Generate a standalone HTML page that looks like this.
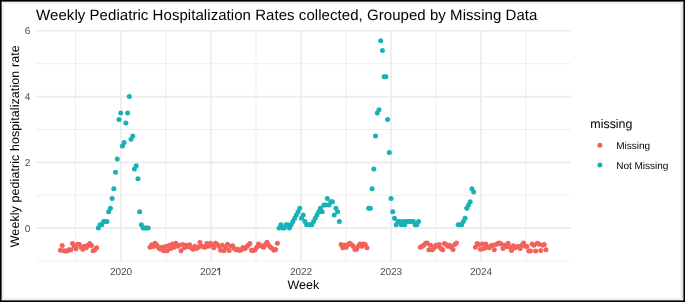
<!DOCTYPE html>
<html><head><meta charset="utf-8"><style>
html,body{margin:0;padding:0;background:#fff;}
body{width:685px;height:302px;overflow:hidden;position:relative;font-family:"Liberation Sans",sans-serif;}
svg{position:absolute;left:0;top:0;will-change:transform;}
text{text-rendering:geometricPrecision;}
.mi{stroke:#EBEBEB;stroke-width:0.8;}
.ma{stroke:#EBEBEB;stroke-width:1.6;}
.at{font-family:"Liberation Sans",sans-serif;font-size:10px;fill:#4D4D4D;}
.ti{font-family:"Liberation Sans",sans-serif;fill:#000;}
circle{r:2.5px;}
.b{position:absolute;}
</style></head><body>
<svg width="685" height="302" viewBox="0 0 685 302">
<rect x="0" y="0" width="685" height="302" fill="#fff"/>
<line x1="36.0" x2="570.7" y1="260.98" y2="260.98" class="mi"/>
<line x1="36.0" x2="570.7" y1="195.22" y2="195.22" class="mi"/>
<line x1="36.0" x2="570.7" y1="129.46" y2="129.46" class="mi"/>
<line x1="36.0" x2="570.7" y1="63.70" y2="63.70" class="mi"/>
<line x1="75.5" x2="75.5" y1="30.0" y2="262.0" class="mi"/>
<line x1="166" x2="166" y1="30.0" y2="262.0" class="mi"/>
<line x1="256" x2="256" y1="30.0" y2="262.0" class="mi"/>
<line x1="346" x2="346" y1="30.0" y2="262.0" class="mi"/>
<line x1="436" x2="436" y1="30.0" y2="262.0" class="mi"/>
<line x1="526" x2="526" y1="30.0" y2="262.0" class="mi"/>
<line x1="36.0" x2="570.7" y1="228.10" y2="228.10" class="ma"/>
<line x1="36.0" x2="570.7" y1="162.34" y2="162.34" class="ma"/>
<line x1="36.0" x2="570.7" y1="96.58" y2="96.58" class="ma"/>
<line x1="36.0" x2="570.7" y1="30.82" y2="30.82" class="ma"/>
<line x1="121" x2="121" y1="30.0" y2="262.0" class="ma"/>
<line x1="211" x2="211" y1="30.0" y2="262.0" class="ma"/>
<line x1="301" x2="301" y1="30.0" y2="262.0" class="ma"/>
<line x1="391" x2="391" y1="30.0" y2="262.0" class="ma"/>
<line x1="481" x2="481" y1="30.0" y2="262.0" class="ma"/>
<g>
<circle r="2.5" cx="60.46" cy="250.13" fill="#F2625B"/>
<circle r="2.5" cx="62.18" cy="245.53" fill="#F2625B"/>
<circle r="2.5" cx="63.90" cy="250.79" fill="#F2625B"/>
<circle r="2.5" cx="65.63" cy="251.12" fill="#F2625B"/>
<circle r="2.5" cx="67.35" cy="251.12" fill="#F2625B"/>
<circle r="2.5" cx="69.07" cy="249.80" fill="#F2625B"/>
<circle r="2.5" cx="70.79" cy="249.80" fill="#F2625B"/>
<circle r="2.5" cx="72.51" cy="243.55" fill="#F2625B"/>
<circle r="2.5" cx="74.23" cy="246.18" fill="#F2625B"/>
<circle r="2.5" cx="75.96" cy="248.81" fill="#F2625B"/>
<circle r="2.5" cx="77.68" cy="244.21" fill="#F2625B"/>
<circle r="2.5" cx="79.40" cy="244.54" fill="#F2625B"/>
<circle r="2.5" cx="81.12" cy="247.17" fill="#F2625B"/>
<circle r="2.5" cx="82.84" cy="249.14" fill="#F2625B"/>
<circle r="2.5" cx="84.56" cy="246.18" fill="#F2625B"/>
<circle r="2.5" cx="86.29" cy="247.83" fill="#F2625B"/>
<circle r="2.5" cx="88.01" cy="245.20" fill="#F2625B"/>
<circle r="2.5" cx="89.73" cy="243.55" fill="#F2625B"/>
<circle r="2.5" cx="91.45" cy="245.53" fill="#F2625B"/>
<circle r="2.5" cx="93.17" cy="250.79" fill="#F2625B"/>
<circle r="2.5" cx="94.89" cy="249.80" fill="#F2625B"/>
<circle r="2.5" cx="96.62" cy="247.83" fill="#F2625B"/>
<circle r="2.5" cx="98.34" cy="228.10" fill="#18B1B5"/>
<circle r="2.5" cx="100.06" cy="224.81" fill="#18B1B5"/>
<circle r="2.5" cx="101.78" cy="224.81" fill="#18B1B5"/>
<circle r="2.5" cx="103.50" cy="221.52" fill="#18B1B5"/>
<circle r="2.5" cx="105.22" cy="221.52" fill="#18B1B5"/>
<circle r="2.5" cx="106.95" cy="221.52" fill="#18B1B5"/>
<circle r="2.5" cx="108.67" cy="211.66" fill="#18B1B5"/>
<circle r="2.5" cx="110.39" cy="208.37" fill="#18B1B5"/>
<circle r="2.5" cx="112.11" cy="198.51" fill="#18B1B5"/>
<circle r="2.5" cx="113.83" cy="188.64" fill="#18B1B5"/>
<circle r="2.5" cx="115.55" cy="172.20" fill="#18B1B5"/>
<circle r="2.5" cx="117.28" cy="159.05" fill="#18B1B5"/>
<circle r="2.5" cx="119.00" cy="119.60" fill="#18B1B5"/>
<circle r="2.5" cx="120.72" cy="113.02" fill="#18B1B5"/>
<circle r="2.5" cx="122.44" cy="145.90" fill="#18B1B5"/>
<circle r="2.5" cx="124.16" cy="142.61" fill="#18B1B5"/>
<circle r="2.5" cx="125.88" cy="122.88" fill="#18B1B5"/>
<circle r="2.5" cx="127.61" cy="113.02" fill="#18B1B5"/>
<circle r="2.5" cx="129.33" cy="96.58" fill="#18B1B5"/>
<circle r="2.5" cx="131.05" cy="139.32" fill="#18B1B5"/>
<circle r="2.5" cx="132.77" cy="136.04" fill="#18B1B5"/>
<circle r="2.5" cx="134.49" cy="168.92" fill="#18B1B5"/>
<circle r="2.5" cx="136.21" cy="165.63" fill="#18B1B5"/>
<circle r="2.5" cx="137.94" cy="178.78" fill="#18B1B5"/>
<circle r="2.5" cx="139.66" cy="211.66" fill="#18B1B5"/>
<circle r="2.5" cx="141.38" cy="224.81" fill="#18B1B5"/>
<circle r="2.5" cx="143.10" cy="228.10" fill="#18B1B5"/>
<circle r="2.5" cx="144.82" cy="228.10" fill="#18B1B5"/>
<circle r="2.5" cx="146.54" cy="228.10" fill="#18B1B5"/>
<circle r="2.5" cx="148.27" cy="228.10" fill="#18B1B5"/>
<circle r="2.5" cx="149.99" cy="247.17" fill="#F2625B"/>
<circle r="2.5" cx="151.71" cy="244.87" fill="#F2625B"/>
<circle r="2.5" cx="153.43" cy="246.51" fill="#F2625B"/>
<circle r="2.5" cx="155.15" cy="243.22" fill="#F2625B"/>
<circle r="2.5" cx="156.87" cy="245.20" fill="#F2625B"/>
<circle r="2.5" cx="158.60" cy="247.83" fill="#F2625B"/>
<circle r="2.5" cx="160.32" cy="249.14" fill="#F2625B"/>
<circle r="2.5" cx="162.04" cy="247.17" fill="#F2625B"/>
<circle r="2.5" cx="163.76" cy="250.79" fill="#F2625B"/>
<circle r="2.5" cx="165.48" cy="246.51" fill="#F2625B"/>
<circle r="2.5" cx="167.20" cy="250.79" fill="#F2625B"/>
<circle r="2.5" cx="168.93" cy="245.53" fill="#F2625B"/>
<circle r="2.5" cx="170.65" cy="248.49" fill="#F2625B"/>
<circle r="2.5" cx="172.37" cy="243.88" fill="#F2625B"/>
<circle r="2.5" cx="174.09" cy="247.17" fill="#F2625B"/>
<circle r="2.5" cx="175.81" cy="243.22" fill="#F2625B"/>
<circle r="2.5" cx="177.53" cy="246.18" fill="#F2625B"/>
<circle r="2.5" cx="179.26" cy="245.20" fill="#F2625B"/>
<circle r="2.5" cx="180.98" cy="250.79" fill="#F2625B"/>
<circle r="2.5" cx="182.70" cy="244.54" fill="#F2625B"/>
<circle r="2.5" cx="184.42" cy="247.83" fill="#F2625B"/>
<circle r="2.5" cx="186.14" cy="245.20" fill="#F2625B"/>
<circle r="2.5" cx="187.87" cy="246.84" fill="#F2625B"/>
<circle r="2.5" cx="189.59" cy="244.87" fill="#F2625B"/>
<circle r="2.5" cx="191.31" cy="247.83" fill="#F2625B"/>
<circle r="2.5" cx="193.03" cy="249.14" fill="#F2625B"/>
<circle r="2.5" cx="194.75" cy="246.18" fill="#F2625B"/>
<circle r="2.5" cx="196.47" cy="248.49" fill="#F2625B"/>
<circle r="2.5" cx="198.20" cy="247.17" fill="#F2625B"/>
<circle r="2.5" cx="199.92" cy="242.57" fill="#F2625B"/>
<circle r="2.5" cx="201.64" cy="246.18" fill="#F2625B"/>
<circle r="2.5" cx="203.36" cy="246.84" fill="#F2625B"/>
<circle r="2.5" cx="205.08" cy="247.17" fill="#F2625B"/>
<circle r="2.5" cx="206.80" cy="243.55" fill="#F2625B"/>
<circle r="2.5" cx="208.53" cy="246.18" fill="#F2625B"/>
<circle r="2.5" cx="210.25" cy="243.22" fill="#F2625B"/>
<circle r="2.5" cx="211.97" cy="244.54" fill="#F2625B"/>
<circle r="2.5" cx="213.69" cy="247.83" fill="#F2625B"/>
<circle r="2.5" cx="215.41" cy="243.22" fill="#F2625B"/>
<circle r="2.5" cx="217.13" cy="244.21" fill="#F2625B"/>
<circle r="2.5" cx="218.86" cy="246.18" fill="#F2625B"/>
<circle r="2.5" cx="220.58" cy="250.13" fill="#F2625B"/>
<circle r="2.5" cx="222.30" cy="245.20" fill="#F2625B"/>
<circle r="2.5" cx="224.02" cy="250.79" fill="#F2625B"/>
<circle r="2.5" cx="225.74" cy="247.83" fill="#F2625B"/>
<circle r="2.5" cx="227.46" cy="244.21" fill="#F2625B"/>
<circle r="2.5" cx="229.19" cy="250.46" fill="#F2625B"/>
<circle r="2.5" cx="230.91" cy="246.18" fill="#F2625B"/>
<circle r="2.5" cx="232.63" cy="245.86" fill="#F2625B"/>
<circle r="2.5" cx="234.35" cy="248.49" fill="#F2625B"/>
<circle r="2.5" cx="236.07" cy="249.80" fill="#F2625B"/>
<circle r="2.5" cx="237.79" cy="249.14" fill="#F2625B"/>
<circle r="2.5" cx="239.52" cy="250.46" fill="#F2625B"/>
<circle r="2.5" cx="241.24" cy="249.80" fill="#F2625B"/>
<circle r="2.5" cx="242.96" cy="247.50" fill="#F2625B"/>
<circle r="2.5" cx="244.68" cy="248.81" fill="#F2625B"/>
<circle r="2.5" cx="246.40" cy="247.17" fill="#F2625B"/>
<circle r="2.5" cx="248.12" cy="245.20" fill="#F2625B"/>
<circle r="2.5" cx="249.85" cy="243.55" fill="#F2625B"/>
<circle r="2.5" cx="251.57" cy="250.13" fill="#F2625B"/>
<circle r="2.5" cx="253.29" cy="250.46" fill="#F2625B"/>
<circle r="2.5" cx="255.01" cy="249.80" fill="#F2625B"/>
<circle r="2.5" cx="256.73" cy="247.17" fill="#F2625B"/>
<circle r="2.5" cx="258.45" cy="243.88" fill="#F2625B"/>
<circle r="2.5" cx="260.18" cy="245.20" fill="#F2625B"/>
<circle r="2.5" cx="261.90" cy="246.18" fill="#F2625B"/>
<circle r="2.5" cx="263.62" cy="247.17" fill="#F2625B"/>
<circle r="2.5" cx="265.34" cy="244.54" fill="#F2625B"/>
<circle r="2.5" cx="267.06" cy="242.24" fill="#F2625B"/>
<circle r="2.5" cx="268.78" cy="245.20" fill="#F2625B"/>
<circle r="2.5" cx="270.51" cy="247.17" fill="#F2625B"/>
<circle r="2.5" cx="272.23" cy="248.49" fill="#F2625B"/>
<circle r="2.5" cx="273.95" cy="250.13" fill="#F2625B"/>
<circle r="2.5" cx="275.67" cy="249.47" fill="#F2625B"/>
<circle r="2.5" cx="277.39" cy="243.22" fill="#F2625B"/>
<circle r="2.5" cx="279.11" cy="228.10" fill="#18B1B5"/>
<circle r="2.5" cx="280.84" cy="224.81" fill="#18B1B5"/>
<circle r="2.5" cx="282.56" cy="228.10" fill="#18B1B5"/>
<circle r="2.5" cx="284.28" cy="228.10" fill="#18B1B5"/>
<circle r="2.5" cx="286.00" cy="224.81" fill="#18B1B5"/>
<circle r="2.5" cx="287.72" cy="224.81" fill="#18B1B5"/>
<circle r="2.5" cx="289.44" cy="228.10" fill="#18B1B5"/>
<circle r="2.5" cx="291.17" cy="224.81" fill="#18B1B5"/>
<circle r="2.5" cx="292.89" cy="221.52" fill="#18B1B5"/>
<circle r="2.5" cx="294.61" cy="218.24" fill="#18B1B5"/>
<circle r="2.5" cx="296.33" cy="214.95" fill="#18B1B5"/>
<circle r="2.5" cx="298.05" cy="211.66" fill="#18B1B5"/>
<circle r="2.5" cx="299.77" cy="208.37" fill="#18B1B5"/>
<circle r="2.5" cx="301.50" cy="218.24" fill="#18B1B5"/>
<circle r="2.5" cx="303.22" cy="214.95" fill="#18B1B5"/>
<circle r="2.5" cx="304.94" cy="221.52" fill="#18B1B5"/>
<circle r="2.5" cx="306.66" cy="224.81" fill="#18B1B5"/>
<circle r="2.5" cx="308.38" cy="224.81" fill="#18B1B5"/>
<circle r="2.5" cx="310.11" cy="224.81" fill="#18B1B5"/>
<circle r="2.5" cx="311.83" cy="224.81" fill="#18B1B5"/>
<circle r="2.5" cx="313.55" cy="221.52" fill="#18B1B5"/>
<circle r="2.5" cx="315.27" cy="218.24" fill="#18B1B5"/>
<circle r="2.5" cx="316.99" cy="214.95" fill="#18B1B5"/>
<circle r="2.5" cx="318.71" cy="211.66" fill="#18B1B5"/>
<circle r="2.5" cx="320.44" cy="208.37" fill="#18B1B5"/>
<circle r="2.5" cx="322.16" cy="211.66" fill="#18B1B5"/>
<circle r="2.5" cx="323.88" cy="205.08" fill="#18B1B5"/>
<circle r="2.5" cx="325.60" cy="205.08" fill="#18B1B5"/>
<circle r="2.5" cx="327.32" cy="198.51" fill="#18B1B5"/>
<circle r="2.5" cx="329.04" cy="205.08" fill="#18B1B5"/>
<circle r="2.5" cx="330.77" cy="201.80" fill="#18B1B5"/>
<circle r="2.5" cx="332.49" cy="201.80" fill="#18B1B5"/>
<circle r="2.5" cx="334.21" cy="214.95" fill="#18B1B5"/>
<circle r="2.5" cx="335.93" cy="208.37" fill="#18B1B5"/>
<circle r="2.5" cx="337.65" cy="211.66" fill="#18B1B5"/>
<circle r="2.5" cx="339.37" cy="221.52" fill="#18B1B5"/>
<circle r="2.5" cx="341.10" cy="244.54" fill="#F2625B"/>
<circle r="2.5" cx="342.82" cy="247.83" fill="#F2625B"/>
<circle r="2.5" cx="344.54" cy="245.20" fill="#F2625B"/>
<circle r="2.5" cx="346.26" cy="247.17" fill="#F2625B"/>
<circle r="2.5" cx="347.98" cy="244.54" fill="#F2625B"/>
<circle r="2.5" cx="349.70" cy="243.22" fill="#F2625B"/>
<circle r="2.5" cx="351.43" cy="244.54" fill="#F2625B"/>
<circle r="2.5" cx="353.15" cy="246.18" fill="#F2625B"/>
<circle r="2.5" cx="354.87" cy="249.47" fill="#F2625B"/>
<circle r="2.5" cx="356.59" cy="249.14" fill="#F2625B"/>
<circle r="2.5" cx="358.31" cy="246.18" fill="#F2625B"/>
<circle r="2.5" cx="360.03" cy="243.88" fill="#F2625B"/>
<circle r="2.5" cx="361.76" cy="246.18" fill="#F2625B"/>
<circle r="2.5" cx="363.48" cy="243.88" fill="#F2625B"/>
<circle r="2.5" cx="365.20" cy="244.54" fill="#F2625B"/>
<circle r="2.5" cx="366.92" cy="247.83" fill="#F2625B"/>
<circle r="2.5" cx="368.64" cy="208.37" fill="#18B1B5"/>
<circle r="2.5" cx="370.36" cy="208.37" fill="#18B1B5"/>
<circle r="2.5" cx="372.09" cy="188.64" fill="#18B1B5"/>
<circle r="2.5" cx="373.81" cy="168.92" fill="#18B1B5"/>
<circle r="2.5" cx="375.53" cy="136.04" fill="#18B1B5"/>
<circle r="2.5" cx="377.25" cy="113.02" fill="#18B1B5"/>
<circle r="2.5" cx="378.97" cy="109.73" fill="#18B1B5"/>
<circle r="2.5" cx="380.69" cy="40.68" fill="#18B1B5"/>
<circle r="2.5" cx="382.42" cy="50.55" fill="#18B1B5"/>
<circle r="2.5" cx="384.14" cy="76.85" fill="#18B1B5"/>
<circle r="2.5" cx="385.86" cy="76.85" fill="#18B1B5"/>
<circle r="2.5" cx="387.58" cy="119.60" fill="#18B1B5"/>
<circle r="2.5" cx="389.30" cy="152.48" fill="#18B1B5"/>
<circle r="2.5" cx="391.02" cy="198.51" fill="#18B1B5"/>
<circle r="2.5" cx="392.75" cy="211.66" fill="#18B1B5"/>
<circle r="2.5" cx="394.47" cy="218.24" fill="#18B1B5"/>
<circle r="2.5" cx="396.19" cy="224.81" fill="#18B1B5"/>
<circle r="2.5" cx="397.91" cy="221.52" fill="#18B1B5"/>
<circle r="2.5" cx="399.63" cy="221.52" fill="#18B1B5"/>
<circle r="2.5" cx="401.35" cy="224.81" fill="#18B1B5"/>
<circle r="2.5" cx="403.08" cy="221.52" fill="#18B1B5"/>
<circle r="2.5" cx="404.80" cy="224.81" fill="#18B1B5"/>
<circle r="2.5" cx="406.52" cy="221.52" fill="#18B1B5"/>
<circle r="2.5" cx="408.24" cy="221.52" fill="#18B1B5"/>
<circle r="2.5" cx="409.96" cy="221.52" fill="#18B1B5"/>
<circle r="2.5" cx="411.68" cy="221.52" fill="#18B1B5"/>
<circle r="2.5" cx="413.41" cy="221.52" fill="#18B1B5"/>
<circle r="2.5" cx="415.13" cy="224.81" fill="#18B1B5"/>
<circle r="2.5" cx="416.85" cy="224.81" fill="#18B1B5"/>
<circle r="2.5" cx="418.57" cy="221.52" fill="#18B1B5"/>
<circle r="2.5" cx="420.29" cy="247.17" fill="#F2625B"/>
<circle r="2.5" cx="422.01" cy="246.18" fill="#F2625B"/>
<circle r="2.5" cx="423.74" cy="245.20" fill="#F2625B"/>
<circle r="2.5" cx="425.46" cy="243.22" fill="#F2625B"/>
<circle r="2.5" cx="427.18" cy="242.90" fill="#F2625B"/>
<circle r="2.5" cx="428.90" cy="249.80" fill="#F2625B"/>
<circle r="2.5" cx="430.62" cy="245.20" fill="#F2625B"/>
<circle r="2.5" cx="432.35" cy="249.80" fill="#F2625B"/>
<circle r="2.5" cx="434.07" cy="247.83" fill="#F2625B"/>
<circle r="2.5" cx="435.79" cy="245.20" fill="#F2625B"/>
<circle r="2.5" cx="437.51" cy="246.18" fill="#F2625B"/>
<circle r="2.5" cx="439.23" cy="244.54" fill="#F2625B"/>
<circle r="2.5" cx="440.95" cy="248.49" fill="#F2625B"/>
<circle r="2.5" cx="442.68" cy="249.80" fill="#F2625B"/>
<circle r="2.5" cx="444.40" cy="243.55" fill="#F2625B"/>
<circle r="2.5" cx="446.12" cy="244.54" fill="#F2625B"/>
<circle r="2.5" cx="447.84" cy="246.18" fill="#F2625B"/>
<circle r="2.5" cx="449.56" cy="245.20" fill="#F2625B"/>
<circle r="2.5" cx="451.28" cy="247.17" fill="#F2625B"/>
<circle r="2.5" cx="453.01" cy="249.47" fill="#F2625B"/>
<circle r="2.5" cx="454.73" cy="244.54" fill="#F2625B"/>
<circle r="2.5" cx="456.45" cy="242.90" fill="#F2625B"/>
<circle r="2.5" cx="458.17" cy="224.81" fill="#18B1B5"/>
<circle r="2.5" cx="459.89" cy="224.81" fill="#18B1B5"/>
<circle r="2.5" cx="461.61" cy="224.81" fill="#18B1B5"/>
<circle r="2.5" cx="463.34" cy="221.52" fill="#18B1B5"/>
<circle r="2.5" cx="465.06" cy="218.24" fill="#18B1B5"/>
<circle r="2.5" cx="466.78" cy="208.37" fill="#18B1B5"/>
<circle r="2.5" cx="468.50" cy="205.08" fill="#18B1B5"/>
<circle r="2.5" cx="470.22" cy="201.80" fill="#18B1B5"/>
<circle r="2.5" cx="471.94" cy="188.64" fill="#18B1B5"/>
<circle r="2.5" cx="473.67" cy="191.93" fill="#18B1B5"/>
<circle r="2.5" cx="475.39" cy="247.17" fill="#F2625B"/>
<circle r="2.5" cx="477.11" cy="243.55" fill="#F2625B"/>
<circle r="2.5" cx="478.83" cy="244.54" fill="#F2625B"/>
<circle r="2.5" cx="480.55" cy="249.14" fill="#F2625B"/>
<circle r="2.5" cx="482.27" cy="243.88" fill="#F2625B"/>
<circle r="2.5" cx="484.00" cy="248.49" fill="#F2625B"/>
<circle r="2.5" cx="485.72" cy="243.88" fill="#F2625B"/>
<circle r="2.5" cx="487.44" cy="247.17" fill="#F2625B"/>
<circle r="2.5" cx="489.16" cy="247.83" fill="#F2625B"/>
<circle r="2.5" cx="490.88" cy="245.86" fill="#F2625B"/>
<circle r="2.5" cx="492.60" cy="245.20" fill="#F2625B"/>
<circle r="2.5" cx="494.33" cy="249.80" fill="#F2625B"/>
<circle r="2.5" cx="496.05" cy="244.54" fill="#F2625B"/>
<circle r="2.5" cx="497.77" cy="243.55" fill="#F2625B"/>
<circle r="2.5" cx="499.49" cy="242.90" fill="#F2625B"/>
<circle r="2.5" cx="501.21" cy="243.88" fill="#F2625B"/>
<circle r="2.5" cx="502.93" cy="248.49" fill="#F2625B"/>
<circle r="2.5" cx="504.66" cy="245.20" fill="#F2625B"/>
<circle r="2.5" cx="506.38" cy="246.84" fill="#F2625B"/>
<circle r="2.5" cx="508.10" cy="243.22" fill="#F2625B"/>
<circle r="2.5" cx="509.82" cy="247.17" fill="#F2625B"/>
<circle r="2.5" cx="511.54" cy="250.46" fill="#F2625B"/>
<circle r="2.5" cx="513.26" cy="245.86" fill="#F2625B"/>
<circle r="2.5" cx="514.99" cy="247.83" fill="#F2625B"/>
<circle r="2.5" cx="516.71" cy="246.84" fill="#F2625B"/>
<circle r="2.5" cx="518.43" cy="246.51" fill="#F2625B"/>
<circle r="2.5" cx="520.15" cy="248.49" fill="#F2625B"/>
<circle r="2.5" cx="521.87" cy="245.20" fill="#F2625B"/>
<circle r="2.5" cx="523.59" cy="242.90" fill="#F2625B"/>
<circle r="2.5" cx="525.32" cy="246.18" fill="#F2625B"/>
<circle r="2.5" cx="527.04" cy="246.51" fill="#F2625B"/>
<circle r="2.5" cx="528.76" cy="251.12" fill="#F2625B"/>
<circle r="2.5" cx="530.48" cy="251.12" fill="#F2625B"/>
<circle r="2.5" cx="532.20" cy="243.88" fill="#F2625B"/>
<circle r="2.5" cx="533.92" cy="245.20" fill="#F2625B"/>
<circle r="2.5" cx="535.65" cy="251.12" fill="#F2625B"/>
<circle r="2.5" cx="537.37" cy="243.22" fill="#F2625B"/>
<circle r="2.5" cx="539.09" cy="244.21" fill="#F2625B"/>
<circle r="2.5" cx="540.81" cy="250.46" fill="#F2625B"/>
<circle r="2.5" cx="542.53" cy="245.20" fill="#F2625B"/>
<circle r="2.5" cx="544.25" cy="244.54" fill="#F2625B"/>
<circle r="2.5" cx="545.98" cy="249.80" fill="#F2625B"/>
</g>
<text x="30.3" y="231.8" class="at" text-anchor="end">0</text>
<text x="30.3" y="166.0" class="at" text-anchor="end">2</text>
<text x="30.3" y="100.3" class="at" text-anchor="end">4</text>
<text x="30.3" y="34.3" class="at" text-anchor="end">6</text>
<text x="121" y="275.4" class="at" text-anchor="middle">2020</text>
<text x="211" y="275.4" class="at" text-anchor="middle">202<tspan style="fill:transparent">1</tspan></text>
<path d="M218.9 267.75H220.1V275H218.9V269.55L217.0 270.85V269.6Z" fill="#4D4D4D"/>
<text x="301" y="275.4" class="at" text-anchor="middle">2022</text>
<text x="391" y="275.4" class="at" text-anchor="middle">2023</text>
<text x="481" y="275.4" class="at" text-anchor="middle">2024</text>
<text x="36.1" y="20.4" class="ti" style="font-size:15px" textLength="501.3" lengthAdjust="spacing">Weekly Pediatric Hospitalization Rates collected, Grouped by Missing Data</text>
<text x="303.35" y="289.3" class="ti" text-anchor="middle" style="font-size:12.45px">Week</text>
<text transform="translate(18.9,146.3) rotate(-90)" x="0" y="0" class="ti" text-anchor="middle" style="font-size:12.45px" textLength="201.9" lengthAdjust="spacing">Weekly pediatric hospitalization rate</text>
<text x="590.3" y="127.9" class="ti" style="font-size:12.45px">missing</text>
<circle r="2.5" cx="599.9" cy="145.2" fill="#F2625B"/>
<circle r="2.5" cx="599.9" cy="165.0" fill="#18B1B5"/>
<text x="616.2" y="148.9" class="ti" style="font-size:10px">Missing</text>
<text x="616.2" y="168.7" class="ti" style="font-size:10px">Not Missing</text>
</svg>
<div class="b" style="left:0;top:3px;width:685px;height:1px;background:#f6f6f6"></div>
<div class="b" style="left:0;top:298px;width:685px;height:1px;background:#f3f3f3"></div>
<div class="b" style="left:3px;top:0;width:1px;height:302px;background:#f7f7f7"></div>
<div class="b" style="left:680px;top:0;width:1px;height:302px;background:#f5f5f5"></div>
<div class="b" style="left:0;top:2px;width:685px;height:1px;background:#ededed"></div>
<div class="b" style="left:0;top:299px;width:685px;height:1px;background:#ececec"></div>
<div class="b" style="left:2px;top:0;width:1px;height:302px;background:#eeeeee"></div>
<div class="b" style="left:681px;top:0;width:1px;height:302px;background:#ececec"></div>
<div class="b" style="left:682px;top:0;width:1px;height:302px;background:#e0e0e0"></div>
<div class="b" style="left:2px;top:2px;width:1px;height:1px;background:#fff"></div>
<div class="b" style="left:682px;top:2px;width:1px;height:1px;background:#fff"></div>
<div class="b" style="left:2px;top:299px;width:1px;height:1px;background:#fff"></div>
<div class="b" style="left:682px;top:299px;width:1px;height:1px;background:#fff"></div>
<div class="b" style="left:0;top:1px;width:685px;height:1px;background:#5a5a5a"></div>
<div class="b" style="left:0;top:300px;width:685px;height:1px;background:#606060"></div>
<div class="b" style="left:1px;top:0;width:1px;height:302px;background:#5e5e5e"></div>
<div class="b" style="left:683px;top:0;width:1px;height:302px;background:#606060"></div>
<div class="b" style="left:1px;top:1px;width:1px;height:1px;background:#3a3a3a"></div>
<div class="b" style="left:683px;top:1px;width:1px;height:1px;background:#3a3a3a"></div>
<div class="b" style="left:1px;top:300px;width:1px;height:1px;background:#3a3a3a"></div>
<div class="b" style="left:683px;top:300px;width:1px;height:1px;background:#2a2a2a"></div>
<div class="b" style="left:0;top:0;width:685px;height:1px;background:#000"></div>
<div class="b" style="left:0;top:301px;width:685px;height:1px;background:#000"></div>
<div class="b" style="left:0;top:0;width:1px;height:302px;background:#000"></div>
<div class="b" style="left:684px;top:0;width:1px;height:302px;background:#000"></div>
</body></html>
